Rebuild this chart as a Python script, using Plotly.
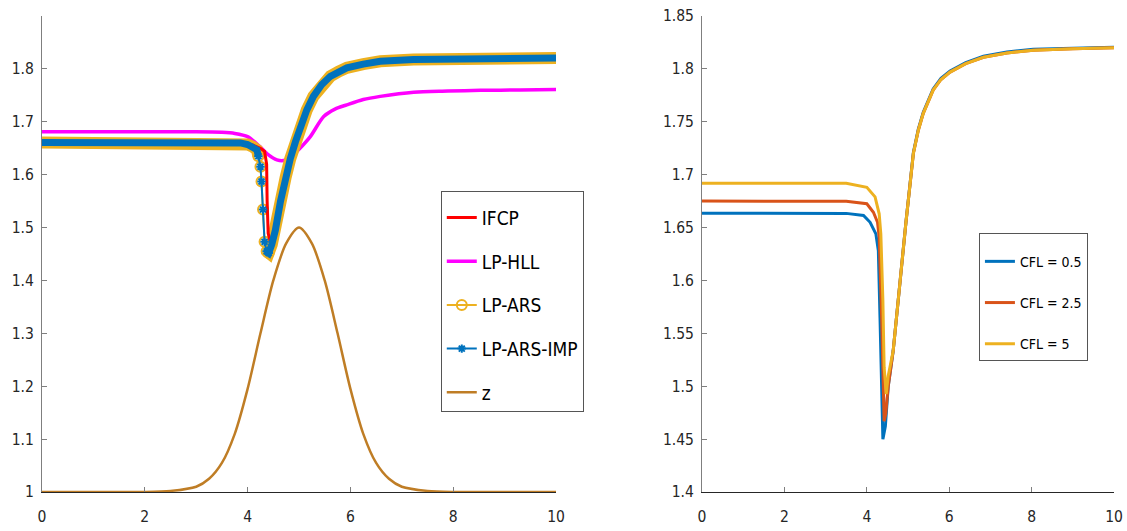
import plotly.graph_objects as go

# ---------------- data ----------------
# Left panel
ars_x = [0, 1, 2, 3, 3.5, 3.86, 4.0, 4.1, 4.18, 4.21, 4.25, 4.27, 4.30, 4.33, 4.37, 4.41,
         4.47, 4.54, 4.64, 4.74, 4.83, 4.93, 5.03, 5.15, 5.28, 5.44, 5.61, 5.77, 5.93,
         6.25, 6.58, 7.23, 7.9, 8.53, 9.3, 10]
ars_y = [1.661, 1.661, 1.661, 1.661, 1.661, 1.660, 1.657, 1.653, 1.647, 1.635, 1.615, 1.587,
         1.534, 1.473, 1.455, 1.452, 1.468, 1.495, 1.550, 1.595, 1.630, 1.662, 1.691, 1.722,
         1.748, 1.770, 1.786, 1.795, 1.802, 1.809, 1.8144, 1.8176, 1.819, 1.820, 1.8203, 1.8205]
imp_x = list(ars_x)
imp_y = list(ars_y)

ifcp_x = [0, 2, 3.5, 3.9, 4.1, 4.25, 4.33, 4.37, 4.38, 4.40, 4.45, 4.54, 4.64, 4.74, 4.83,
          4.93, 5.03, 5.15, 5.28, 5.44, 5.61, 5.77, 5.93, 6.25, 6.58, 7.23, 7.9, 8.53, 9.3, 10]
ifcp_y = [1.661, 1.661, 1.661, 1.660, 1.656, 1.650, 1.644, 1.620, 1.550, 1.489, 1.470, 1.495,
          1.550, 1.595, 1.630, 1.662, 1.691, 1.722, 1.748, 1.770, 1.786, 1.795, 1.802, 1.809,
          1.8144, 1.8176, 1.819, 1.820, 1.8203, 1.8205]

hll_x = [0, 2, 3, 3.5, 3.75, 4.0, 4.24, 4.4, 4.57, 4.70, 4.83, 5.0, 5.22, 5.48, 5.7, 5.93,
         6.25, 6.58, 7.23, 7.9, 8.53, 9.3, 10]
hll_y = [1.681, 1.681, 1.681, 1.680, 1.678, 1.672, 1.653, 1.638, 1.628, 1.6266, 1.632, 1.648,
         1.672, 1.710, 1.724, 1.732, 1.742, 1.748, 1.756, 1.758, 1.7595, 1.760, 1.761]

z_x = [0, 1, 2, 2.5, 3, 3.25, 3.5, 3.75, 4, 4.25, 4.5, 4.75, 5, 5.25, 5.5, 5.75, 6, 6.25,
       6.5, 6.75, 7, 7.5, 8, 9, 10]
z_y = [1.0, 1.0, 1.0, 1.002, 1.01, 1.025, 1.055, 1.11, 1.195, 1.30, 1.40, 1.47, 1.50, 1.47,
       1.40, 1.30, 1.195, 1.11, 1.055, 1.025, 1.01, 1.002, 1.0, 1.0, 1.0]

# Right panel
cfl05_x = [0, 2, 3.5, 3.92, 4.08, 4.22, 4.28, 4.32, 4.35, 4.39, 4.45, 4.52, 4.64, 4.8, 4.95,
           5.13, 5.25, 5.37, 5.5, 5.61, 5.8, 6.02, 6.4, 6.83, 7.4, 8.04, 9, 10]
cfl05_y = [1.6636, 1.6636, 1.6634, 1.6614, 1.655, 1.644, 1.628, 1.565, 1.502, 1.450, 1.462,
           1.500, 1.5335, 1.600, 1.655, 1.721, 1.743, 1.759, 1.771, 1.781, 1.791, 1.798, 1.806,
           1.812, 1.816, 1.8185, 1.8195, 1.8205]
cfl25_x = [0, 2, 3.5, 4.0, 4.16, 4.26, 4.30, 4.36, 4.40, 4.42, 4.46, 4.52, 4.64, 4.8, 4.95,
           5.13, 5.25, 5.37, 5.5, 5.61, 5.8, 6.02, 6.4, 6.83, 7.4, 8.04, 9, 10]
cfl25_y = [1.675, 1.675, 1.6748, 1.6725, 1.6645, 1.655, 1.641, 1.565, 1.486, 1.467, 1.474,
           1.500, 1.5335, 1.600, 1.655, 1.720, 1.742, 1.758, 1.770, 1.780, 1.790, 1.797, 1.805,
           1.811, 1.815, 1.8176, 1.819, 1.820]
cfl5_x = [0, 2, 3.5, 4.0, 4.2, 4.30, 4.34, 4.39, 4.42, 4.47, 4.52, 4.64, 4.8, 4.95,
          5.13, 5.25, 5.37, 5.5, 5.61, 5.8, 6.02, 6.4, 6.83, 7.4, 8.04, 9, 10]
cfl5_y = [1.692, 1.692, 1.6918, 1.688, 1.679, 1.663, 1.644, 1.581, 1.518, 1.4925, 1.510,
          1.5335, 1.600, 1.655, 1.720, 1.742, 1.758, 1.770, 1.780, 1.790, 1.797, 1.805,
          1.811, 1.815, 1.8176, 1.819, 1.820]

x_ticks = [0, 2, 4, 6, 8, 10]
y1_ticks = [1, 1.1, 1.2, 1.3, 1.4, 1.5, 1.6, 1.7, 1.8]
y1_labels = ["1", "1.1", "1.2", "1.3", "1.4", "1.5", "1.6", "1.7", "1.8"]
y2_ticks = [1.4, 1.45, 1.5, 1.55, 1.6, 1.65, 1.7, 1.75, 1.8, 1.85]
y2_labels = ["1.4", "1.45", "1.5", "1.55", "1.6", "1.65", "1.7", "1.75", "1.8", "1.85"]

# ---------------- styling ----------------
FONT = "DejaVu Sans Condensed, DejaVu Sans, sans-serif"
C_RED = "#FF0000"
C_MAG = "#FF00FF"
C_YEL = "#EDB120"
C_BLU = "#0072BD"
C_ORG = "#D95319"
C_Z = "#BF7D25"
DIP_LO, DIP_HI = 4.21, 4.37  # where the dense markers separate


def band(xs, ys):
    bx, by = [], []
    for x, y in zip(xs, ys):
        if DIP_LO < x < DIP_HI:
            bx.append(None)
            by.append(None)
        else:
            bx.append(x)
            by.append(y)
    return bx, by


def dip_points(xs, ys):
    px, py = [], []
    for x, y in zip(xs, ys):
        if DIP_LO <= x <= DIP_HI + 0.05:
            px.append(x)
            py.append(y)
    return px, py


fig = go.Figure()

# legend entries (left panel), in the reference order
LEG1 = dict(legend="legend")
fig.add_trace(go.Scatter(x=[None], y=[None], mode="lines", name="IFCP",
                         line=dict(color=C_RED, width=3), legendgroup="g1", **LEG1))
fig.add_trace(go.Scatter(x=[None], y=[None], mode="lines", name="LP-HLL",
                         line=dict(color=C_MAG, width=3.5), legendgroup="g2", **LEG1))
fig.add_trace(go.Scatter(x=[None], y=[None], mode="lines+markers", name="LP-ARS",
                         line=dict(color=C_YEL, width=2),
                         marker=dict(symbol="circle-open", size=10, color=C_YEL,
                                     line=dict(width=2, color=C_YEL)),
                         legendgroup="g3", **LEG1))
fig.add_trace(go.Scatter(x=[None], y=[None], mode="lines+markers", name="LP-ARS-IMP",
                         line=dict(color=C_BLU, width=2),
                         marker=dict(symbol="asterisk-open", size=7, color=C_BLU,
                                     line=dict(width=2, color=C_BLU)),
                         legendgroup="g4", **LEG1))
fig.add_trace(go.Scatter(x=[None], y=[None], mode="lines", name="z",
                         line=dict(color=C_Z, width=2.5), legendgroup="g5", **LEG1))

# left panel marks
fig.add_trace(go.Scatter(x=hll_x, y=hll_y, mode="lines", showlegend=False,
                         line=dict(color=C_MAG, width=3.5, shape="spline", smoothing=0.8)))
bx, by = band(ars_x, ars_y)
fig.add_trace(go.Scatter(x=bx, y=by, mode="lines", showlegend=False,
                         line=dict(color=C_YEL, width=12)))
fig.add_trace(go.Scatter(x=ars_x, y=ars_y, mode="lines", showlegend=False,
                         line=dict(color=C_YEL, width=2)))
dx, dy = dip_points(ars_x, ars_y)
fig.add_trace(go.Scatter(x=dx, y=dy, mode="markers", showlegend=False,
                         marker=dict(symbol="circle-open", size=10, color=C_YEL,
                                     line=dict(width=2, color=C_YEL))))
fig.add_trace(go.Scatter(x=ifcp_x, y=ifcp_y, mode="lines", showlegend=False,
                         line=dict(color=C_RED, width=3)))
bx, by = band(imp_x, imp_y)
fig.add_trace(go.Scatter(x=bx, y=by, mode="lines", showlegend=False,
                         line=dict(color=C_BLU, width=7)))
fig.add_trace(go.Scatter(x=imp_x, y=imp_y, mode="lines", showlegend=False,
                         line=dict(color=C_BLU, width=2)))
dx, dy = dip_points(imp_x, imp_y)
fig.add_trace(go.Scatter(x=dx, y=dy, mode="markers", showlegend=False,
                         marker=dict(symbol="asterisk-open", size=7, color=C_BLU,
                                     line=dict(width=2, color=C_BLU))))
fig.add_trace(go.Scatter(x=z_x, y=z_y, mode="lines", showlegend=False,
                         line=dict(color=C_Z, width=2.5, shape="spline", smoothing=0.8)))

# right panel
for xs, ys, col, nm, g in [(cfl05_x, cfl05_y, C_BLU, "CFL = 0.5", "a"),
                           (cfl25_x, cfl25_y, C_ORG, "CFL = 2.5", "b"),
                           (cfl5_x, cfl5_y, C_YEL, "CFL = 5", "c")]:
    fig.add_trace(go.Scatter(x=xs, y=ys, mode="lines", name=nm, xaxis="x2", yaxis="y2",
                             line=dict(color=col, width=3),
                             legend="legend2", legendgroup=g))

axis_common = dict(showline=True, linewidth=1, ticks="inside", ticklen=5, tickwidth=1,
                   showgrid=False, zeroline=False, mirror=False, automargin=False,
                   tickfont=dict(family=FONT, size=15.5, color="#262626"))
xax = dict(axis_common, range=[0, 10], tickvals=x_ticks, linecolor="#262626",
           tickcolor="#7f7f7f", ticklabelstandoff=10)
yax = dict(axis_common, linecolor="#7f7f7f", tickcolor="#7f7f7f", ticklabelstandoff=4)

fig.update_layout(
    width=1127, height=531,
    margin=dict(l=42, r=13, t=16, b=39, autoexpand=False),
    paper_bgcolor="white", plot_bgcolor="white",
    font=dict(family=FONT, size=18, color="#000000"),
    xaxis=dict(xax, domain=[0, 0.4795], anchor="y"),
    yaxis=dict(yax, range=[1, 1.9], tickvals=y1_ticks, ticktext=y1_labels, anchor="x"),
    xaxis2=dict(xax, domain=[0.6157, 1], anchor="y2"),
    yaxis2=dict(yax, range=[1.4, 1.85], tickvals=y2_ticks, ticktext=y2_labels, anchor="x2"),
    legend=dict(x=0.372, y=0.632, xanchor="left", yanchor="top",
                bordercolor="#555555", borderwidth=1, bgcolor="white",
                traceorder="grouped", tracegroupgap=16,
                title=dict(text=" ", font=dict(family=FONT, size=5)),
                font=dict(family=FONT, size=19, color="#000000")),
    legend2=dict(x=0.874, y=0.544, xanchor="left", yanchor="top",
                 bordercolor="#555555", borderwidth=1, bgcolor="white",
                 traceorder="grouped", tracegroupgap=20,
                 title=dict(text=" ", font=dict(family=FONT, size=9)),
                 font=dict(family=FONT, size=14, color="#000000")),
    showlegend=True,
    hovermode=False,
)

fig.write_html("out.html",
               config={"displayModeBar": False, "staticPlot": True},
               post_script="document.body.style.margin='0px';"
                           "document.body.style.overflow='hidden';")
